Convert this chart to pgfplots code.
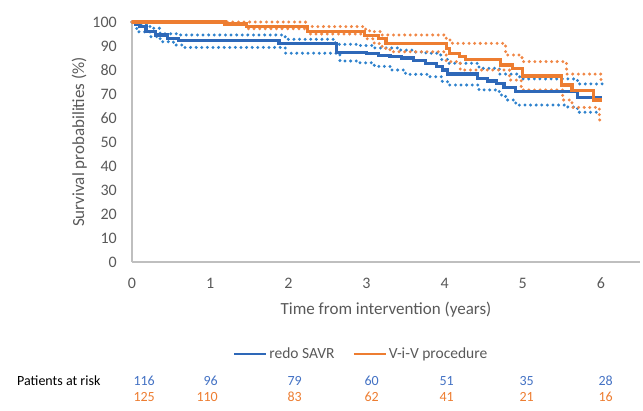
\documentclass[border=0pt]{standalone}
\usepackage{pgfplots}
\pgfplotsset{compat=1.18}
\usepackage{fontspec}
\setmainfont{Carlito}
\definecolor{bmain}{RGB}{46,104,184}
\definecolor{bci}{RGB}{46,130,205}
\definecolor{omain}{RGB}{237,125,49}
\definecolor{oci}{RGB}{240,135,70}
\definecolor{axgray}{RGB}{191,191,191}
\definecolor{txtgray}{RGB}{89,89,89}
\definecolor{numblue}{RGB}{68,114,196}
\definecolor{numorange}{RGB}{237,125,49}
\begin{document}
\begin{tikzpicture}[x=1pt,y=1pt]
\useasboundingbox (0,0) rectangle (643,410);
\begin{axis}[
  at={(132pt,148pt)}, anchor=south west,
  scale only axis, width=508pt, height=240pt,
  xmin=0, xmax=6.5, ymin=0, ymax=100,
  axis x line*=bottom, axis y line*=left,
  axis line style={axgray, line width=1.3pt, -},
  xtick={0,1,...,6}, ytick={0,10,...,100},
  major tick length=0pt, tick style={draw=none},
  /pgf/number format/assume math mode=true,
  xticklabel style={font=\fontsize{16}{19}\selectfont, text=txtgray, anchor=center, yshift=-21pt},
  yticklabel style={font=\fontsize{16}{19}\selectfont, text=txtgray, anchor=east, inner sep=0pt, xshift=-15pt},
  xlabel={Time from intervention (years)},
  ylabel={Survival probabilities (\%)},
  xlabel style={font=\fontsize{17}{20}\selectfont, text=txtgray, at={(axis description cs:0.5,-0.2)}, anchor=center},
  ylabel style={font=\fontsize{17}{20}\selectfont, text=txtgray, at={(axis description cs:-0.104,0.5)}, anchor=center},
  legend style={at={(axis description cs:0.451,-0.383)}, anchor=center, draw=none, fill=none,
    legend columns=2, font=\fontsize{15.5}{18}\selectfont, text=txtgray,
    /tikz/every even column/.append style={column sep=16pt}},
  legend image code/.code={\draw[#1, line width=2.4pt] (0pt,0pt) -- (32pt,0pt);},
  clip=false,
]
% CI lines
\addplot[const plot, bci, line width=3.3pt, line cap=round, dash pattern=on 0pt off 5.6pt, forget plot] coordinates {
(0,100) (0.1,99) (0.23,97.4) (0.36,95.1) (0.6,94.6) (1.96,92.8) (2.6,90.7) (2.9,90.2) (3.1,89.2) (3.4,88.3) (3.6,87.5) (3.76,87) (3.95,84.4) (4.04,82.8) (4.44,80.7) (4.7,78.3) (4.96,76.3) (5.7,74.2) (6.02,74.2)};
\addplot[const plot, bci, line width=3.3pt, line cap=round, dash pattern=on 0pt off 5.6pt, forget plot] coordinates {
(0,100) (0.06,95.9) (0.23,93.9) (0.36,91.8) (0.53,90.4) (0.66,89.4) (1.96,87) (2.66,83.75) (2.9,83) (3.1,81.5) (3.3,80) (3.5,78.2) (3.8,77.2) (3.97,75.1) (4.06,73.75) (4.44,71.7) (4.7,69.6) (4.78,67.5) (4.91,65.4) (5.55,64.6) (5.7,62.4) (5.98,62.4)};
\addplot[const plot, oci, line width=3.3pt, line cap=round, dash pattern=on 0pt off 5.6pt, forget plot] coordinates {
(0,100) (2.22,98.1) (2.98,97) (3.04,96) (3.2,94.6) (4.02,92.5) (4.1,91.1) (4.78,86.25) (4.99,83.5) (5.56,78.3) (6.0,75.1) (6.02,75.1)};
\addplot[const plot, oci, line width=3.3pt, line cap=round, dash pattern=on 0pt off 5.6pt, forget plot] coordinates {
(0,100) (1.19,99) (1.46,97.2) (2.25,95) (2.98,93) (3.1,91) (3.2,89) (3.3,87.6) (4.02,83.5) (4.2,80) (4.83,75.8) (4.98,71.7) (5.51,67.5) (5.63,64.4) (5.98,59.2) (6.0,59.2)};
% main lines
\addplot[const plot, bmain, line width=3.2pt] coordinates {
(0,100) (0.04,99) (0.1,98) (0.18,96) (0.3,94.6) (0.45,93.2) (0.6,92.2) (1.88,91.1) (2.62,87.3) (3.0,86.8) (3.15,86.2) (3.3,85.6) (3.45,85) (3.6,84) (3.76,82.8) (3.9,81.4) (3.97,80) (4.04,78.3) (4.42,76.3) (4.55,75.4) (4.66,74.4) (4.76,72.8) (4.91,71) (5.7,68.5) (6.02,68.5)};
\addlegendentry{redo SAVR}
\addplot[const plot, omain, line width=3.2pt] coordinates {
(0,100) (1.19,99.2) (1.46,98.2) (2.25,96) (2.98,94.3) (3.15,93.2) (3.25,91.1) (4.02,89) (4.06,87) (4.19,85.6) (4.27,84.4) (4.72,82.1) (4.87,80.7) (5.0,77.5) (5.5,73.75) (5.63,71.4) (5.9,67.5) (6.02,67.5)};
\addlegendentry{V-i-V procedure}
\end{axis}
\begin{scope}[every node/.style={inner sep=0pt, font=\fontsize{14}{16}\selectfont}]
\node[anchor=base west] at (17,24.5) {Patients at risk};
\foreach \x/\b/\o in {155/116/125, 218/96/110, 302/79/83, 379/60/62, 454/51/41, 534/35/21, 613/28/16} {
  \node[anchor=base east, text=numblue] at (\x,24.5) {\b};
  \node[anchor=base east, text=numorange] at (\x,8.5) {\o};
}
\end{scope}
\end{tikzpicture}
\end{document}
